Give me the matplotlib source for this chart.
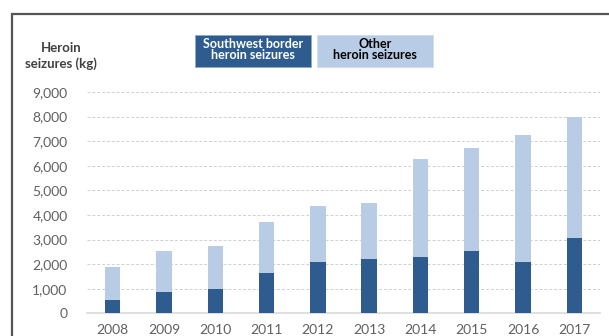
import matplotlib
matplotlib.use("Agg")
import matplotlib.pyplot as plt
from matplotlib.patches import Rectangle
import numpy as np

years = ["2008", "2009", "2010", "2011", "2012", "2013", "2014", "2015", "2016", "2017"]
southwest = [530, 850, 1000, 1650, 2070, 2220, 2290, 2520, 2070, 3080]
total = [1880, 2520, 2740, 3720, 4370, 4480, 6290, 6725, 7255, 7990]
other = [t - s for t, s in zip(total, southwest)]
yticks = [0, 1000, 2000, 3000, 4000, 5000, 6000, 7000, 8000, 9000]
series_names = ["Southwest border\nheroin seizures", "Other\nheroin seizures"]

dark = "#2F5C8F"
light = "#B8CCE5"
tick_col = "#606060"

plt.rcParams['font.family'] = ['Lato', 'DejaVu Sans']

W, H = 609, 336
fig = plt.figure(figsize=(W / 100, H / 100), dpi=100)
ax = fig.add_axes([87 / W, 1 - 313.3 / H, (600 - 87) / W, (313.3 - 92) / H])

x = np.arange(len(years))
ax.bar(x, southwest, width=0.3, color=dark, zorder=3)
ax.bar(x, other, width=0.3, bottom=southwest, color=light, zorder=3)

ax.set_xlim(-0.5, len(years) - 0.5)
ax.set_ylim(0, 9000)
ax.set_yticks(yticks)
ax.set_yticklabels([f"{v:,}" for v in yticks])
ax.set_xticks(x)
ax.set_xticklabels(years)
ax.tick_params(axis='both', length=0, labelsize=10, labelcolor=tick_col)
ax.tick_params(axis='y', pad=14)
ax.tick_params(axis='x', pad=8)
for s in ["top", "right", "left"]:
    ax.spines[s].set_visible(False)
ax.spines["bottom"].set_color("#D9D9D9")
ax.spines["bottom"].set_linewidth(1.2)
ax.grid(axis='y', color="#D0D0D0", linestyle=(0, (3, 2)), linewidth=0.7, zorder=0)
ax.set_axisbelow(True)

# y label
fig.text(61 / W, 1 - 56.2 / H, "Heroin\nseizures (kg)", ha='center', va='center',
         fontsize=9.5, fontweight='bold', color="#404040", linespacing=1.35)

# legend boxes
boxes = [(195, 311, dark, "white"), (317, 433, light, "black")]
for (x0, x1, fc, tc), name in zip(boxes, series_names):
    fig.add_artist(Rectangle((x0 / W, 1 - 66.7 / H), (x1 - x0) / W, 31.7 / H,
                             transform=fig.transFigure, facecolor=fc,
                             edgecolor="#8FA9C8" if fc == dark else "#D0DCEB", linewidth=0.6))
    fig.text((x0 + x1) / 2 / W, 1 - 49.5 / H, name, ha='center', va='center',
             fontsize=9, fontweight='bold', color=tc, linespacing=0.95)

# outer frame
fig.add_artist(Rectangle((12.3 / W, -0.1), 1.2, 1.1 - 14 / H, transform=fig.transFigure,
                         facecolor='none', edgecolor="#555555", linewidth=1.6))

fig.savefig("out.png", dpi=100)
